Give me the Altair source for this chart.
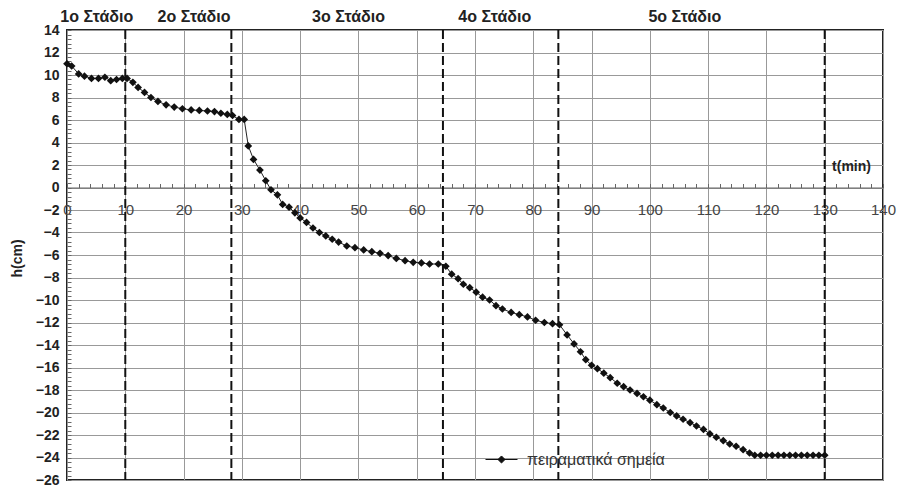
import altair as alt
import pandas as pd

# ---- data ----
t_min = [0, 0.8, 2, 3, 4.2, 5.4, 6.5, 7.5, 8.5, 9.5, 10.3,
         11.3, 12.2, 13.3, 14.4, 15.6, 17, 18.4, 19.8, 21.3, 22.7, 24.1, 25.3, 26.4, 27.5, 28.4, 29.5, 30.4,
         31.1, 32, 33.1, 34.1, 35, 36.1, 37, 38.1, 39.1, 40, 41.1, 42.2, 43.3, 44.4, 45.5, 46.6, 48, 49.4,
         50.9, 52.3, 53.7, 55.1, 56.5, 58, 59.4, 60.8, 62.2, 63.7, 65,
         66, 67.1, 68, 69.1, 70.2, 71.3, 72.5, 73.6, 74.7, 76.2, 77.6, 79, 80.4, 81.9, 83.3, 84.5,
         85.8, 87, 88.1, 89, 90, 91, 92.1, 93.2, 94.4, 95.5, 96.6, 97.8, 98.9, 100, 101.2, 102.3, 103.5,
         104.6, 105.7, 106.9, 108, 109.2, 110.3, 111.4, 112.6, 113.7, 114.8, 116, 117.1, 118,
         119, 120, 121, 122, 123, 124, 125, 126, 127, 128, 129, 130]
h_cm = [11.0, 10.8, 10.1, 9.9, 9.7, 9.7, 9.8, 9.5, 9.6, 9.7, 9.7,
        9.35, 8.9, 8.45, 8.0, 7.65, 7.35, 7.15, 7.0, 6.9, 6.85, 6.8, 6.75, 6.6, 6.5, 6.4, 6.05, 6.05,
        3.7, 2.5, 1.55, 0.6, -0.2, -0.65, -1.5, -1.75, -2.25, -2.7, -3.1, -3.6, -4.0, -4.3, -4.6, -4.85, -5.2, -5.35,
        -5.55, -5.7, -5.85, -6.05, -6.3, -6.5, -6.65, -6.7, -6.8, -6.8, -7.0,
        -7.7, -8.1, -8.6, -8.9, -9.3, -9.75, -10.0, -10.5, -10.8, -11.1, -11.3, -11.5, -11.8, -12.0, -12.1, -12.2,
        -13.1, -13.9, -14.6, -15.3, -15.8, -16.1, -16.5, -16.9, -17.4, -17.7, -18.0, -18.3, -18.6, -18.9, -19.3, -19.6, -20.0,
        -20.3, -20.6, -20.9, -21.2, -21.5, -21.9, -22.2, -22.5, -22.8, -23.0, -23.3, -23.6, -23.8,
        -23.8, -23.8, -23.8, -23.8, -23.8, -23.8, -23.8, -23.8, -23.8, -23.8, -23.8, -23.8]
series_name = "πειραματικά σημεία"

stage_bounds = [10, 28.2, 64.5, 84.3, 130]
stage_names = ["1ο Στάδιο", "2ο Στάδιο", "3ο Στάδιο", "4ο Στάδιο", "5ο Στάδιο"]
stage_label_t = [5.1, 21.8, 48.3, 73.4, 106]

x_ticks = [0, 10, 20, 30, 40, 50, 60, 70, 80, 90, 100, 110, 120, 130, 140]
y_ticks = [-26, -24, -22, -20, -18, -16, -14, -12, -10, -8, -6, -4, -2, 0, 2, 4, 6, 8, 10, 12, 14]
x_minor = [v for v in range(0, 141, 2)]
y_minor = [round(-26 + 0.4 * i, 1) for i in range(101)]

df = pd.DataFrame({"t": t_min, "h": h_cm, "series": series_name})
df_stage = pd.DataFrame({"t": stage_label_t, "name": stage_names})
df_bounds = pd.DataFrame({"t": stage_bounds})
df_tlabel = pd.DataFrame({"t": [134.6], "h": [1.85], "txt": ["t(min)"]})

FONT = "Liberation Sans"
W, H = 816, 450
Y0 = H * 14 / 40  # pixel row of h = 0 inside the plot
xscale = alt.Scale(domain=[0, 140], nice=False, zero=False)
yscale = alt.Scale(domain=[-26, 14], nice=False, zero=False)

line = alt.Chart(df).mark_line(color="#222", strokeWidth=1).encode(
    x=alt.X("t:Q", scale=xscale, axis=alt.Axis(orient="bottom", values=x_ticks, grid=True,
                                                gridColor="#999", gridWidth=1, labels=False,
                                                ticks=False, domain=False, title=None)),
    y=alt.Y("h:Q", scale=yscale, axis=alt.Axis(orient="left", values=y_ticks, grid=True,
                                                gridColor="#999", gridWidth=1, domain=False,
                                                ticks=False, labelPadding=8, labelFont=FONT,
                                                labelFontSize=14, labelFontWeight="bold",
                                                labelColor="#222", title="h(cm)",
                                                titleFont=FONT, titleFontSize=14,
                                                titleFontWeight="bold", titleColor="#222",
                                                titleX=-50, titleY=228, titleBaseline="middle",
                                                titleAlign="center", titleAngle=-90)),
)

symbol_path = "M-1,0L1,0M0,-0.22L0.22,0L0,0.22L-0.22,0Z"
points = alt.Chart(df).mark_point(shape="diamond", filled=True, size=60, opacity=1).encode(
    x=alt.X("t:Q", scale=xscale, axis=None),
    y=alt.Y("h:Q", scale=yscale, axis=None),
    color=alt.Color("series:N", scale=alt.Scale(range=["#111"]),
                    legend=alt.Legend(orient="none", legendX=418, legendY=413, title=None,
                                      symbolType=symbol_path, symbolSize=1024,
                                      symbolStrokeColor="#111", symbolStrokeWidth=1,
                                      labelFont=FONT, labelFontSize=16, labelColor="#333",
                                      labelOffset=9, padding=0)),
)

rules = alt.Chart(df_bounds).mark_rule(color="#111", strokeWidth=2, strokeDash=[9, 4]).encode(
    x=alt.X("t:Q", scale=xscale, axis=alt.Axis(orient="bottom", offset=-(H - Y0), values=x_ticks,
                                                grid=False, ticks=False, domain=True,
                                                domainColor="#666", domainWidth=1.2,
                                                labelPadding=15, labelFont=FONT,
                                                labelFontSize=15, labelColor="#444",
                                                labelFlush=False, labelOverlap=False,
                                                title=None)),
)

stages = alt.Chart(df_stage).mark_text(font=FONT, fontSize=16, fontWeight="bold",
                                       color="#222", baseline="middle").encode(
    x=alt.X("t:Q", scale=xscale, axis=alt.Axis(orient="top", offset=-Y0, values=x_minor,
                                                grid=False, labels=False, domain=False,
                                                ticks=True, tickSize=4, tickColor="#666",
                                                title=None)),
    y=alt.value(-13),
    text="name:N",
)

tlabel = alt.Chart(df_tlabel).mark_text(font=FONT, fontSize=14, fontWeight="bold",
                                        color="#222", baseline="middle").encode(
    x=alt.X("t:Q", scale=xscale, axis=None),
    y=alt.Y("h:Q", scale=yscale, axis=alt.Axis(orient="right", offset=-W, values=y_minor,
                                                grid=False, labels=False, domain=False,
                                                ticks=True, tickSize=4, tickColor="#666",
                                                title=None)),
    text="txt:N",
)

chart = alt.layer(line, points, rules, stages, tlabel).resolve_axis(
    x="independent", y="independent"
).properties(
    width=W, height=H,
    autosize=alt.AutoSizeParams(type="none"),
    padding={"left": 59, "top": 22, "right": 16, "bottom": 7},
    background="white",
).configure_view(stroke="#222", strokeWidth=2)

chart.save("out.html", embed_options={"renderer": "svg", "actions": False})
